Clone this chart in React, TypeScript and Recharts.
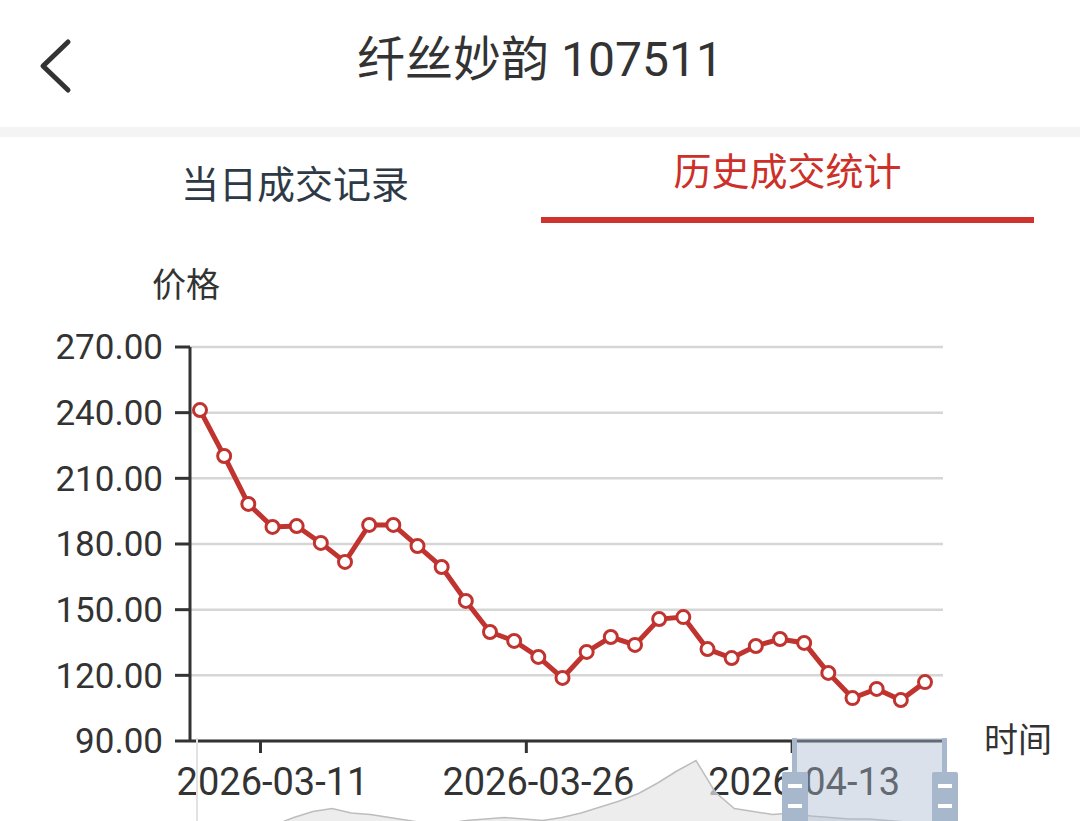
import { LineChart, Line, XAxis, YAxis, CartesianGrid, AreaChart, Area, ReferenceArea } from "recharts";

const dates = [
  "2026-03-06", "2026-03-09", "2026-03-10", "2026-03-11", "2026-03-12", "2026-03-13",
  "2026-03-16", "2026-03-17", "2026-03-18", "2026-03-19", "2026-03-20", "2026-03-23",
  "2026-03-24", "2026-03-25", "2026-03-26", "2026-03-27", "2026-03-30", "2026-03-31",
  "2026-04-01", "2026-04-02", "2026-04-03", "2026-04-07", "2026-04-08", "2026-04-09",
  "2026-04-10", "2026-04-13", "2026-04-14", "2026-04-15", "2026-04-16", "2026-04-17",
  "2026-04-20",
];

const prices = [
  241.2, 220.2, 198.3, 187.8, 188.2, 180.5, 171.8, 188.7, 188.7, 179.1, 169.5, 154.0,
  139.8, 135.7, 128.4, 118.8, 130.7, 137.5, 133.9, 145.7, 146.6, 132.0, 127.9, 133.4,
  136.6, 134.8, 121.1, 109.6, 113.8, 108.7, 116.9,
];

const tickDates = ["2026-03-11", "2026-03-26", "2026-04-13"];
const priceTicks = [90, 120, 150, 180, 210, 240, 270];

// overview strip of the zoom slider (whole history, mostly cut off by the screen edge)
const overview = [
  30, 32, 35, 38, 42, 47, 51, 53, 50, 49, 47, 45, 43, 43, 45, 46, 47, 46, 45, 47,
  50, 54, 58, 63, 70, 78, 85, 64, 53, 51, 49, 50, 48, 47, 46, 46, 45, 44, 43, 42,
];

const rows = dates.map((d, i) => ({ date: d, price: prices[i] }));
const overviewRows = overview.map((v, i) => ({ i, v }));

const RED = "#c0332f";
const FONT = "Roboto, 'Noto Sans CJK SC', sans-serif";

function DateTick(props: any) {
  const { x, y, payload } = props;
  return (
    <g>
      <line x1={x - 12} y1={y} x2={x - 12} y2={y + 12} stroke="#333" strokeWidth={3} />
      <text x={x} y={y + 54} textAnchor="middle" fill="#333" fontSize={38} fontFamily={FONT}>
        {payload.value}
      </text>
    </g>
  );
}

function Handle({ left }: { left: number }) {
  return (
    <>
      <div style={{ position: "absolute", left: left + 10, top: 738, width: 5, height: 36, background: "#a7b7cc" }} />
      <div style={{ position: "absolute", left, top: 772, width: 26, height: 60, background: "#a7b7cc", borderRadius: 2 }}>
        <div style={{ position: "absolute", left: 6, top: 12, width: 14, height: 4, background: "#fff" }} />
        <div style={{ position: "absolute", left: 6, top: 32, width: 14, height: 4, background: "#fff" }} />
      </div>
    </>
  );
}

export default function App() {
  return (
    <div style={{ position: "fixed", left: 0, top: 0, width: 1080, height: 821, overflow: "hidden", background: "#fff", fontFamily: FONT, color: "#333" }}>
      {/* header */}
      <svg style={{ position: "absolute", left: 30, top: 36 }} width={50} height={60}>
        <path d="M38 6 L13 30 L38 54" fill="none" stroke="#333" strokeWidth={5} strokeLinecap="round" strokeLinejoin="round" />
      </svg>
      <div style={{ position: "absolute", left: 0, width: 1080, top: 30, textAlign: "center", fontSize: 48, lineHeight: "60px" }}>
        纤丝妙韵 107511
      </div>
      <div style={{ position: "absolute", left: 0, width: 1080, top: 127, height: 10, background: "#f4f4f4" }} />
      <div style={{ position: "absolute", left: 0, width: 590, top: 160, textAlign: "center", fontSize: 38, lineHeight: "50px", color: "#2d3a46" }}>
        当日成交记录
      </div>
      <div style={{ position: "absolute", left: 541, width: 493, top: 147, textAlign: "center", fontSize: 38, lineHeight: "50px", color: "#cc3029" }}>
        历史成交统计
      </div>
      <div style={{ position: "absolute", left: 541, width: 493, top: 217, height: 6, background: "#d0332d" }} />

      <div style={{ position: "absolute", left: 152, top: 262, fontSize: 34, lineHeight: "46px" }}>价格</div>
      <div style={{ position: "absolute", left: 984, top: 717, fontSize: 34, lineHeight: "46px" }}>时间</div>

      <div style={{ position: "absolute", left: 0, top: 0 }}>
        <LineChart width={1080} height={821} data={rows} margin={{ top: 347, right: 137, bottom: 0, left: 0 }}>
          <CartesianGrid vertical={false} stroke="#d6d6d6" strokeWidth={2.5} />
          <XAxis
            dataKey="date"
            ticks={tickDates}
            interval={0}
            height={80}
            padding={{ left: 10, right: 18 }}
            axisLine={{ stroke: "#333", strokeWidth: 3 }}
            tickLine={false}
            tickSize={0}
            tickMargin={0}
            tick={<DateTick />}
          />
          <YAxis
            domain={[90, 270]}
            ticks={priceTicks}
            width={190}
            tickSize={15}
            tickMargin={12}
            axisLine={{ stroke: "#333", strokeWidth: 3 }}
            tickLine={{ stroke: "#333", strokeWidth: 3 }}
            tick={{ fill: "#333", fontSize: 35, fontFamily: FONT }}
            tickFormatter={(v: number) => v.toFixed(2)}
          />
          <Line
            type="linear"
            dataKey="price"
            stroke={RED}
            strokeWidth={5}
            dot={{ r: 6.5, fill: "#fff", stroke: RED, strokeWidth: 3 }}
            isAnimationActive={false}
          />
        </LineChart>
      </div>

      {/* zoom slider */}
      <div style={{ position: "absolute", left: 196, top: 738, borderLeft: "2px solid #e2e2e2" }}>
        <AreaChart width={747} height={150} data={overviewRows} margin={{ top: 0, right: 0, bottom: 0, left: 0 }}>
          <XAxis dataKey="i" type="number" domain={[0, 39]} hide />
          <YAxis domain={[0, 100]} hide />
          <Area type="linear" dataKey="v" stroke="#bdbdbd" strokeWidth={1.5} fill="#e6e6e6" fillOpacity={0.7} isAnimationActive={false} />
          <ReferenceArea x1={31.2} x2={39} fill="rgba(167,183,204,0.42)" fillOpacity={1} stroke="none" />
        </AreaChart>
      </div>
      <Handle left={782} />
      <Handle left={932} />
    </div>
  );
}
